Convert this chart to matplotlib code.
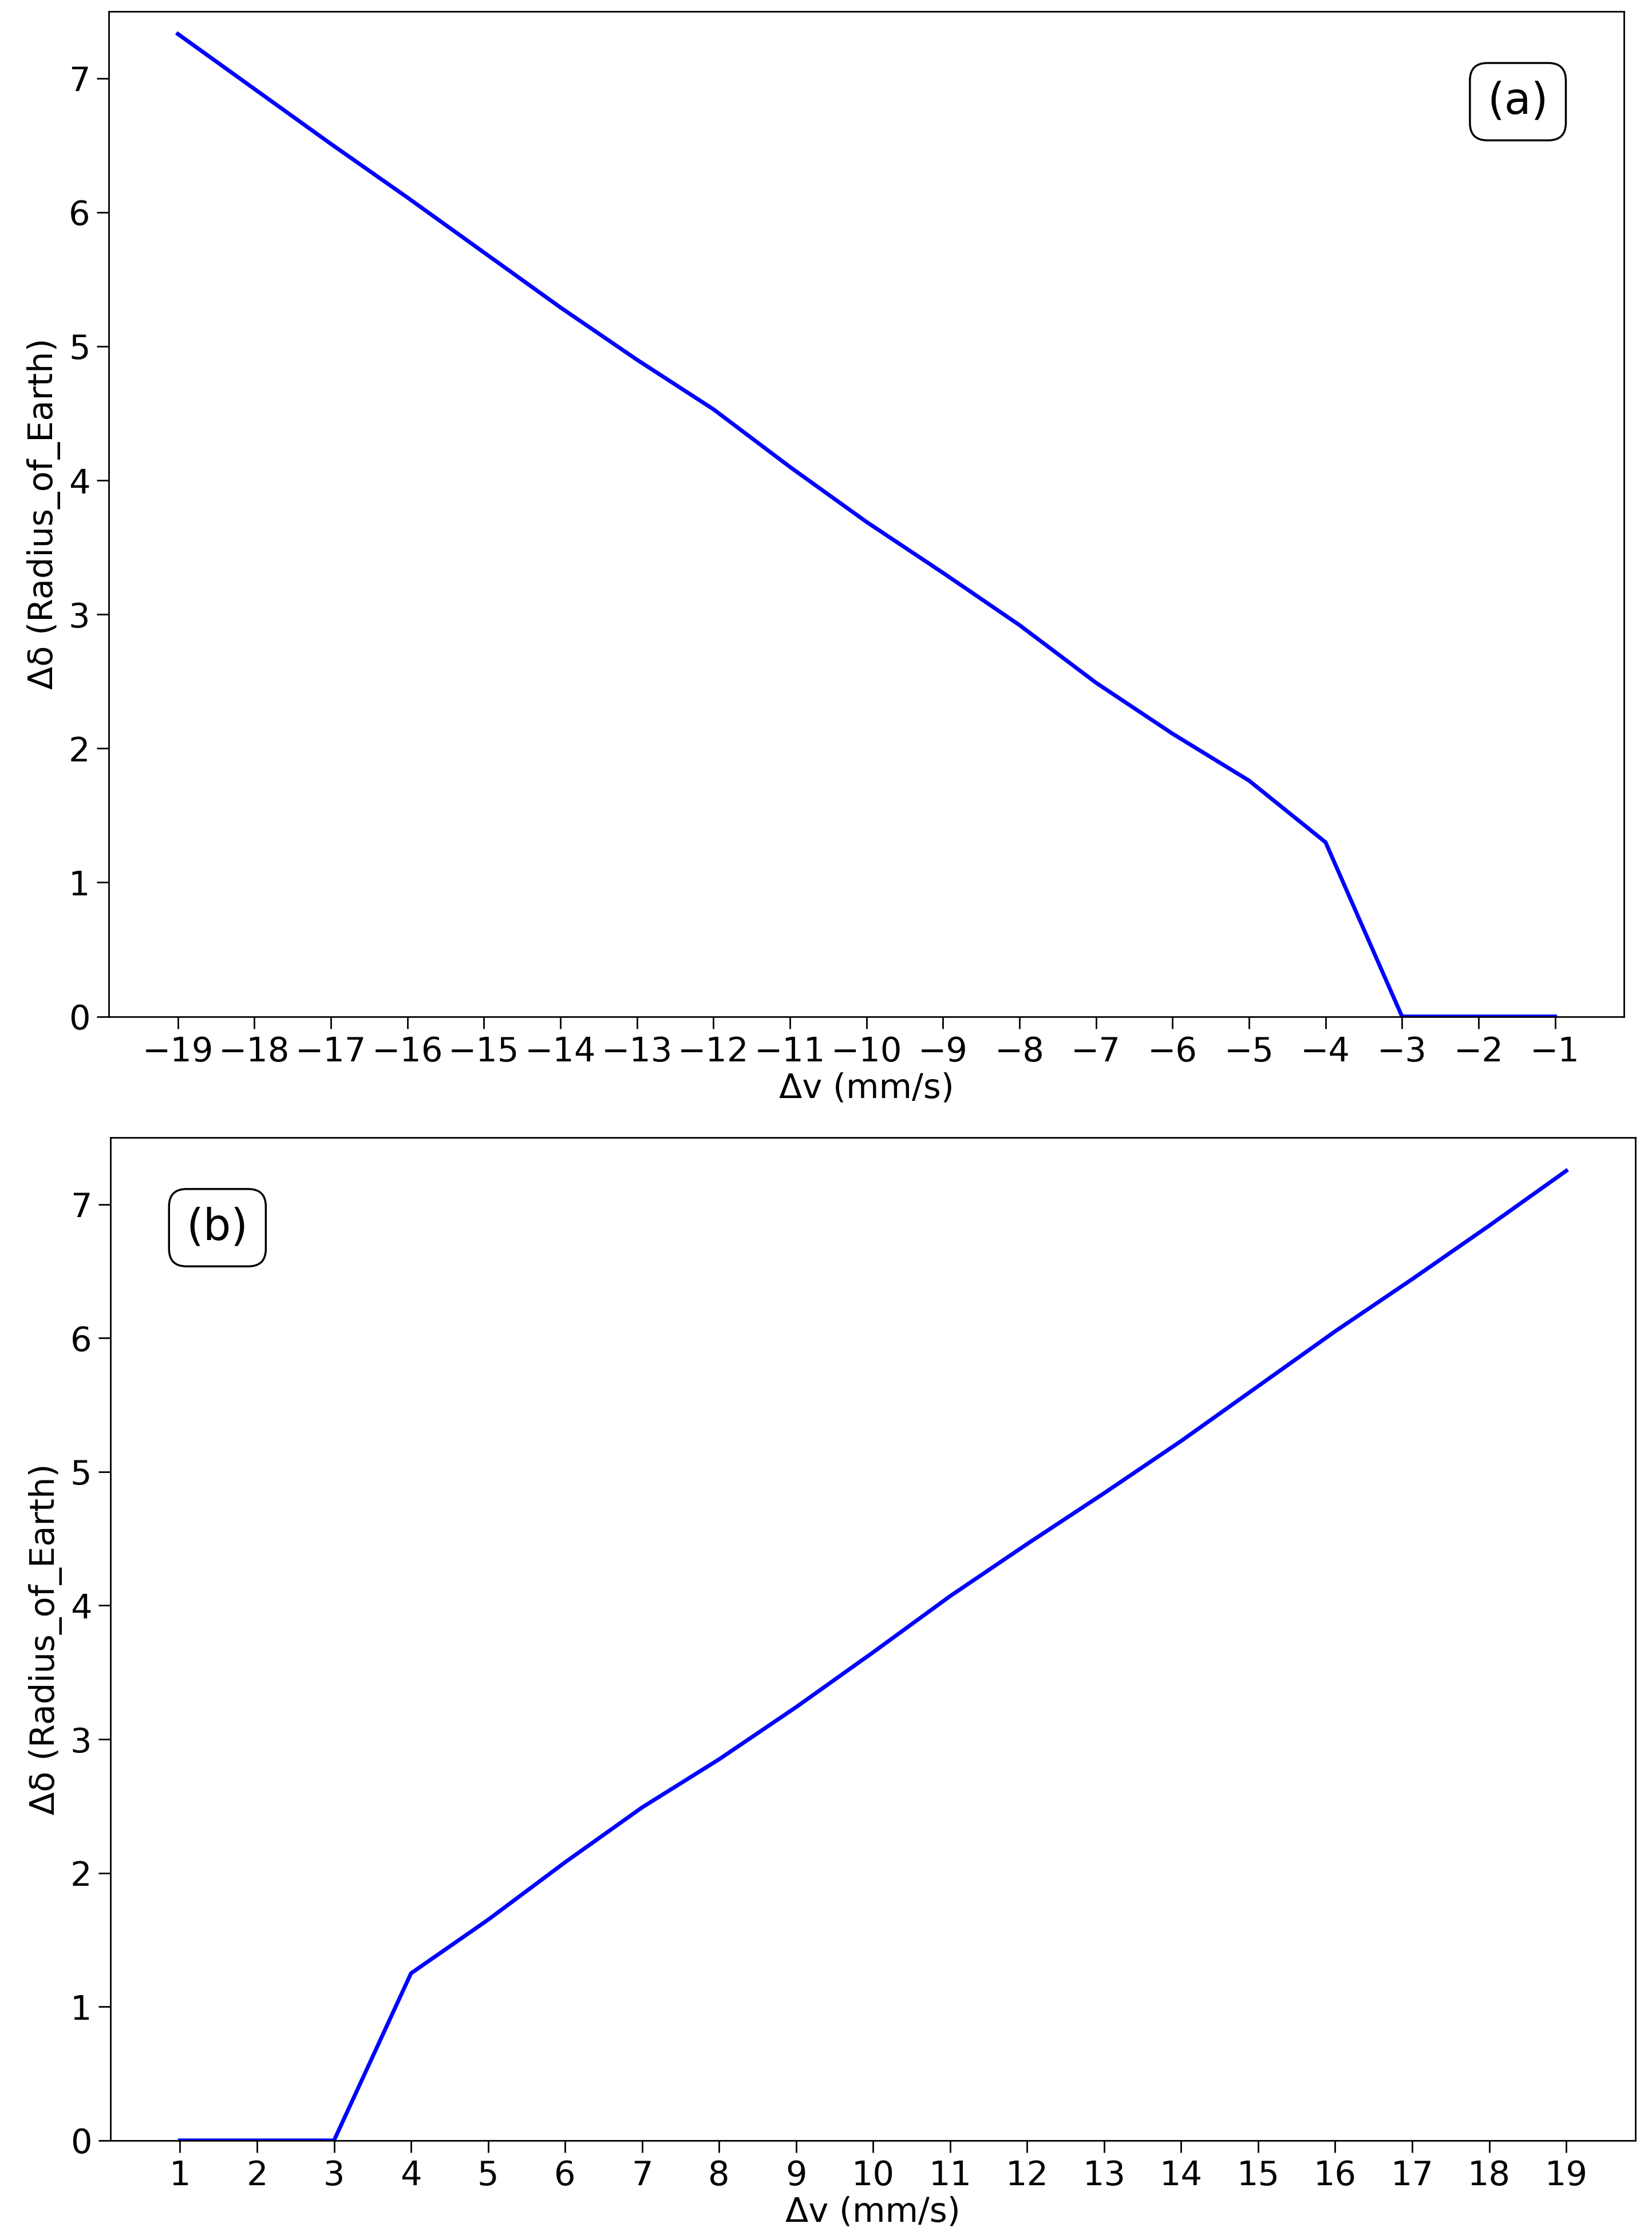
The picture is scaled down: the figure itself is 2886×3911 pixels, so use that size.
import matplotlib.pyplot as plt
import numpy as np

dv_neg = list(range(-19, 0))
dd_neg = [7.33, 6.92, 6.51, 6.11, 5.70, 5.29, 4.90, 4.53, 4.10, 3.69, 3.31, 2.92,
          2.49, 2.11, 1.76, 1.30, 0.0, 0.0, 0.0]
dv_pos = list(range(1, 20))
dd_pos = [0.0, 0.0, 0.0, 1.25, 1.65, 2.08, 2.49, 2.85, 3.24, 3.65, 4.07, 4.46,
          4.84, 5.23, 5.64, 6.05, 6.44, 6.84, 7.25]

fig = plt.figure(figsize=(11.544, 15.644), dpi=250)
ax1 = fig.add_axes([0.066, 0.546, 0.917, 0.449])
ax2 = fig.add_axes([0.067, 0.044, 0.923, 0.448])

for ax, x, y, lab, lx, ha in [(ax1, dv_neg, dd_neg, "(a)", 0.93, 'center'),
                              (ax2, dv_pos, dd_pos, "(b)", 0.07, 'center')]:
    ax.plot(x, y, color='blue', lw=2)
    ax.set_xticks(x)
    ax.set_xlim(x[0] - 0.9, x[-1] + 0.9)
    ax.set_ylim(0, 7.5)
    ax.tick_params(labelsize=17, length=6)
    ax.set_xlabel("Δv (mm/s)", fontsize=17, labelpad=2)
    ax.set_ylabel("Δδ (Radius_of_Earth)", fontsize=17)
    ax.text(lx, 0.91, lab, transform=ax.transAxes, fontsize=22, ha=ha, va='center',
            bbox=dict(boxstyle='round,pad=0.4', fc='white', ec='black'))

fig.savefig("out.png", dpi=250)
